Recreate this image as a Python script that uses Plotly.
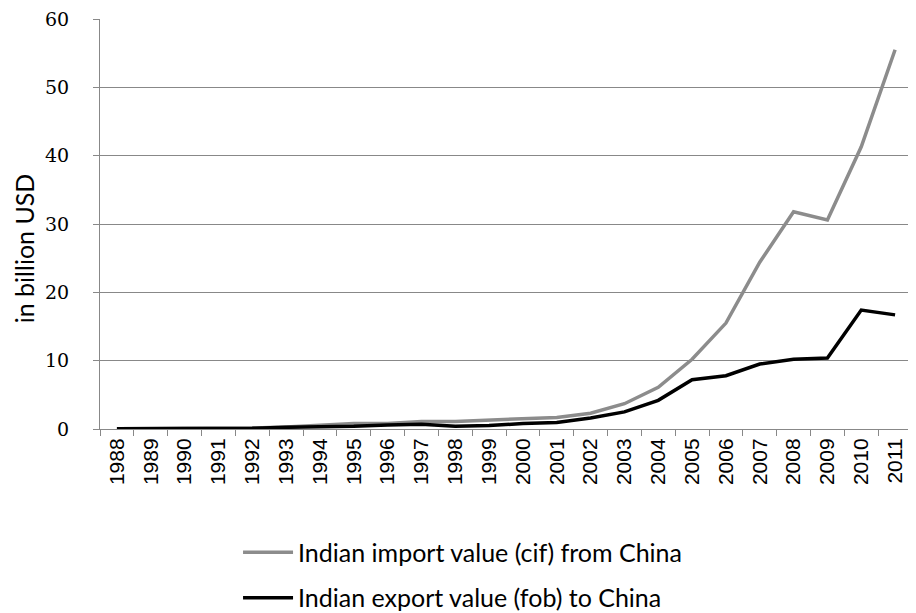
import plotly.graph_objects as go

years = [str(y) for y in range(1988, 2012)]
imports = [0.02, 0.03, 0.03, 0.05, 0.15, 0.3, 0.6, 0.8, 0.8, 1.1, 1.1, 1.3, 1.5, 1.7,
           2.3, 3.7, 6.1, 10.2, 15.5, 24.4, 31.8, 30.6, 41.3, 55.5]
exports = [0.02, 0.02, 0.02, 0.05, 0.1, 0.25, 0.3, 0.4, 0.6, 0.7, 0.4, 0.5, 0.8, 0.95,
           1.6, 2.5, 4.2, 7.2, 7.8, 9.5, 10.2, 10.4, 17.4, 16.7]

fig = go.Figure()
fig.add_trace(go.Scatter(x=years, y=imports, mode="lines", legendgroup="imp",
                         name="Indian import value (cif) from China",
                         line=dict(color="#8c8c8c", width=3.5)))
fig.add_trace(go.Scatter(x=years, y=exports, mode="lines", legendgroup="exp",
                         name="Indian export value (fob) to China",
                         line=dict(color="#000000", width=3.5)))

fig.update_layout(
    width=908, height=605,
    margin=dict(l=92, r=4, t=11, b=184, autoexpand=False),
    paper_bgcolor="white", plot_bgcolor="white",
    showlegend=True,
    legend=dict(orientation="v", x=0.17, xanchor="left", y=-0.245, yanchor="top",
                font=dict(family="Lato", size=25, color="black"),
                tracegroupgap=10, itemwidth=50),
    xaxis=dict(type="category", tickson="boundaries", ticks="outside", ticklen=6,
               tickcolor="#888", showline=True, linecolor="#888", linewidth=1,
               showgrid=False, tickangle=-90, automargin=False,
               tickfont=dict(family="Liberation Sans", size=21, color="black"),
               range=[-0.5, 23.5]),
    yaxis=dict(range=[0, 60], dtick=10, showgrid=True, gridcolor="#888", gridwidth=1,
               showline=True, linecolor="#888", linewidth=1, zeroline=False,
               ticks="outside", ticklen=6, tickcolor="#888", ticklabelstandoff=20,
               ticklabeloverflow="allow", automargin=False,
               tickfont=dict(family="DejaVu Serif", size=19, color="black")),
    annotations=[dict(text="in billion USD", xref="paper", yref="paper",
                      x=-0.094, y=0.44, xanchor="center", yanchor="middle",
                      textangle=-90, showarrow=False,
                      font=dict(family="Lato", size=25, color="black"))],
)

fig.write_html("out.html")
